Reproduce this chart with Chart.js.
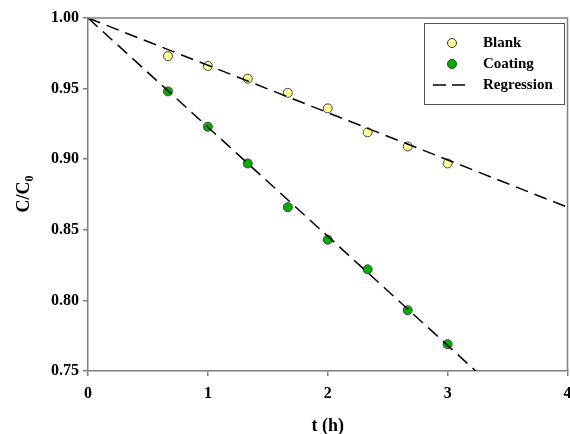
<!DOCTYPE html>
<html>
<head>
<meta charset="utf-8">
<script src="https://cdn.jsdelivr.net/npm/chart.js@4"></script>
<style>
  html, body { margin: 0; padding: 0; background: #fff; overflow: hidden; }
  #wrap { width: 573px; height: 434px; }
</style>
</head>
<body>
<div id="wrap"><canvas id="chart"></canvas></div>
<script>
// Data
const times = [0.667, 1, 1.333, 1.667, 2, 2.333, 2.667, 3];
const blank = [0.973, 0.966, 0.957, 0.947, 0.936, 0.919, 0.909, 0.897];
const coating = [0.948, 0.923, 0.897, 0.866, 0.843, 0.822, 0.793, 0.769];
// Regression lines (end points)
const blankFitX = [0, 4];
const blankFitY = [1.0, 0.866];
const coatFitX = [0, 3.235];
const coatFitY = [1.0, 0.75];
const xTicks = [0, 1, 2, 3, 4];
const yTicks = [0.75, 0.80, 0.85, 0.90, 0.95, 1.00];

const serif = '"Liberation Serif", "Times New Roman", serif';
const axisGray = '#808080';

const pts = (xs, ys) => xs.map((x, i) => ({ x: x, y: ys[i] }));

// frame, axis titles and legend
const extras = {
  id: 'extras',
  afterDraw(chart) {
    const ctx = chart.ctx;
    const a = chart.chartArea;
    ctx.save();
    ctx.strokeStyle = axisGray;
    ctx.lineWidth = 1.5;
    ctx.beginPath();
    ctx.moveTo(a.left, a.top);
    ctx.lineTo(a.right, a.top);
    ctx.lineTo(a.right, a.bottom);
    ctx.stroke();

    // x title
    ctx.fillStyle = '#000';
    ctx.font = 'bold 18px ' + serif;
    ctx.textAlign = 'center';
    ctx.textBaseline = 'middle';
    ctx.fillText('t (h)', (a.left + a.right) / 2, 426);

    // y title with subscript
    ctx.translate(29, 194);
    ctx.rotate(-Math.PI / 2);
    ctx.textAlign = 'left';
    ctx.textBaseline = 'alphabetic';
    ctx.font = 'bold 18px ' + serif;
    const main = 'C/C';
    const w1 = ctx.measureText(main).width;
    ctx.font = 'bold 12px ' + serif;
    const w2 = ctx.measureText('0').width;
    const x0 = -(w1 + w2) / 2;
    ctx.font = 'bold 18px ' + serif;
    ctx.fillText(main, x0, 0);
    ctx.font = 'bold 12px ' + serif;
    ctx.fillText('0', x0 + w1, 4);
    ctx.restore();

    // legend
    ctx.save();
    ctx.fillStyle = '#fff';
    ctx.fillRect(424, 23, 140, 81);
    ctx.strokeStyle = '#555';
    ctx.lineWidth = 1;
    ctx.strokeRect(424.5, 23.5, 140, 81);
    const rows = [
      { label: 'Blank', fill: '#ffff99', y: 43 },
      { label: 'Coating', fill: '#00b000', y: 64 },
    ];
    rows.forEach(r => {
      ctx.beginPath();
      ctx.arc(452, r.y, 4.5, 0, Math.PI * 2);
      ctx.fillStyle = r.fill;
      ctx.fill();
      ctx.strokeStyle = '#333';
      ctx.lineWidth = 1;
      ctx.stroke();
    });
    ctx.strokeStyle = '#000';
    ctx.lineWidth = 1.5;
    ctx.setLineDash([13, 6]);
    ctx.beginPath();
    ctx.moveTo(433, 85);
    ctx.lineTo(466, 85);
    ctx.stroke();
    ctx.setLineDash([]);
    ctx.fillStyle = '#000';
    ctx.font = 'bold 15px ' + serif;
    ctx.textAlign = 'left';
    ctx.textBaseline = 'middle';
    ctx.fillText('Blank', 483, 43);
    ctx.fillText('Coating', 483, 64);
    ctx.fillText('Regression', 483, 85);
    ctx.restore();
  }
};

new Chart(document.getElementById('chart'), {
  type: 'scatter',
  data: {
    datasets: [
      {
        label: 'Regression',
        type: 'line',
        data: pts(blankFitX, blankFitY),
        borderColor: '#000',
        borderWidth: 1.5,
        borderDash: [13, 7],
        pointRadius: 0,
        fill: false,
      },
      {
        label: 'Regression',
        type: 'line',
        data: pts(coatFitX, coatFitY),
        borderColor: '#000',
        borderWidth: 1.5,
        borderDash: [13, 7],
        pointRadius: 0,
        fill: false,
      },
      {
        label: 'Blank',
        data: pts(times, blank),
        backgroundColor: '#ffff99',
        borderColor: '#444',
        borderWidth: 1,
        pointRadius: 4.5,
      },
      {
        label: 'Coating',
        data: pts(times, coating),
        backgroundColor: '#00b000',
        borderColor: '#444',
        borderWidth: 1,
        pointRadius: 4.5,
      },
    ],
  },
  options: {
    responsive: true,
    maintainAspectRatio: false,
    animation: false,
    layout: { padding: { top: 18, right: 0, left: 0, bottom: 0 } },
    plugins: {
      legend: { display: false },
      tooltip: { enabled: false },
    },
    scales: {
      x: {
        type: 'linear',
        min: 0,
        max: 4,
        afterFit: s => { s.height = 63; s.paddingLeft = 0; s.paddingRight = 0; },
        afterBuildTicks: s => { s.ticks = xTicks.map(v => ({ value: v })); },
        grid: { drawOnChartArea: false, tickLength: 5, color: axisGray, lineWidth: 1.5 },
        border: { color: axisGray, width: 1.5 },
        ticks: {
          padding: 8,
          color: '#000',
          font: { family: serif, size: 16, weight: 'bold' },
        },
      },
      y: {
        min: 0.75,
        max: 1.0,
        afterFit: s => { s.width = 88; s.paddingTop = 0; s.paddingBottom = 0; },
        afterBuildTicks: s => { s.ticks = yTicks.map(v => ({ value: v })); },
        grid: { drawOnChartArea: false, tickLength: 5, color: axisGray, lineWidth: 1.5 },
        border: { color: axisGray, width: 1.5 },
        ticks: {
          padding: 4,
          color: '#000',
          font: { family: serif, size: 16, weight: 'bold' },
          callback: v => v.toFixed(2),
        },
      },
    },
  },
  plugins: [extras],
});
</script>
</body>
</html>
